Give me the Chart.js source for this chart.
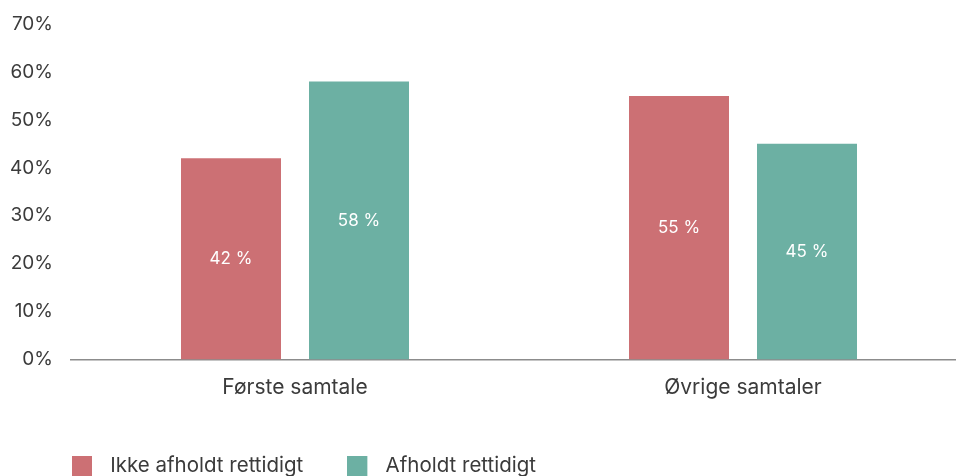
<!DOCTYPE html>
<html>
<head>
<meta charset="utf-8">
<script src="https://cdn.jsdelivr.net/npm/chart.js@4"></script>
<style>
  html, body { margin: 0; padding: 0; background: #fff; overflow: hidden; }
</style>
</head>
<body>
<canvas id="chart" width="967" height="486"></canvas>
<script>
// data
const categories = ['Første samtale', 'Øvrige samtaler'];
const seriesNames = ['Ikke afholdt rettidigt', 'Afholdt rettidigt'];
const ikkeRettidigt = [42, 55];
const rettidigt = [58, 45];
const yTicks = [0, 10, 20, 30, 40, 50, 60, 70];

const colors = ['#cc7074', '#6cb0a3'];
const textColor = '#3b3b3b';
const fontFamily = 'Inter, "Liberation Sans", sans-serif';

// legend swatch: 20px square with empty space on its right
function makeSwatch(color) {
    const c = document.createElement('canvas');
    c.width = 28;
    c.height = 20;
    const ctx = c.getContext('2d');
    ctx.fillStyle = color;
    ctx.fillRect(0, 0, 20, 20);
    return c;
}

// white percentage labels in the middle of each bar
const barLabels = {
    id: 'barLabels',
    afterDatasetsDraw: function(chart) {
        const ctx = chart.ctx;
        ctx.save();
        ctx.fillStyle = '#ffffff';
        ctx.font = '17px ' + fontFamily;
        ctx.textAlign = 'center';
        ctx.textBaseline = 'middle';
        chart.data.datasets.forEach((ds, i) => {
            chart.getDatasetMeta(i).data.forEach((bar, j) => {
                ctx.fillText(ds.data[j] + ' %', bar.x, (bar.y + bar.base) / 2);
            });
        });
        ctx.restore();
    }
};

// legend starts a bit left of the canvas edge offset
const legendShift = {
    id: 'legendShift',
    afterLayout: function(chart) {
        if (chart.legend) chart.legend.left = 28;
    }
};

new Chart(document.getElementById('chart'), {
    type: 'bar',
    data: {
        labels: categories,
        datasets: [
            { label: seriesNames[0], data: ikkeRettidigt, backgroundColor: colors[0] },
            { label: seriesNames[1], data: rettidigt, backgroundColor: colors[1] }
        ]
    },
    options: {
        responsive: false,
        animation: false,
        devicePixelRatio: 1,
        categoryPercentage: 256 / 448,
        barPercentage: 100 / 128,
        layout: {
            padding: { top: 24, left: 0, right: 0, bottom: 0 }
        },
        scales: {
            x: {
                grid: { display: false, drawTicks: false },
                border: { display: true, color: '#8c8c8c', width: 1.5 },
                ticks: {
                    color: textColor,
                    font: { family: fontFamily, size: 21 },
                    padding: 16
                },
                afterFit: function(scale) { scale.height = 52; }
            },
            y: {
                min: 0,
                max: 70,
                grid: { display: false, drawTicks: false },
                border: { display: false },
                afterBuildTicks: function(scale) {
                    scale.ticks = yTicks.map(v => ({ value: v }));
                },
                ticks: {
                    color: textColor,
                    font: { family: fontFamily, size: 19 },
                    padding: 18,
                    callback: v => v + '%'
                },
                afterFit: function(scale) {
                    scale.width = 71;
                    scale.paddingTop = 12;
                    scale.paddingBottom = 12;
                }
            }
        },
        plugins: {
            tooltip: { enabled: false },
            legend: {
                position: 'bottom',
                align: 'start',
                labels: {
                    color: textColor,
                    font: { family: fontFamily, size: 20.5 },
                    padding: 44,
                    usePointStyle: true,
                    pointStyleWidth: 28,
                    generateLabels: function(chart) {
                        return chart.data.datasets.map((ds, i) => ({
                            text: ds.label,
                            fillStyle: ds.backgroundColor,
                            strokeStyle: ds.backgroundColor,
                            lineWidth: 0,
                            pointStyle: makeSwatch(ds.backgroundColor),
                            fontColor: textColor,
                            hidden: false,
                            datasetIndex: i
                        }));
                    }
                }
            }
        }
    },
    plugins: [barLabels, legendShift]
});
</script>
</body>
</html>
